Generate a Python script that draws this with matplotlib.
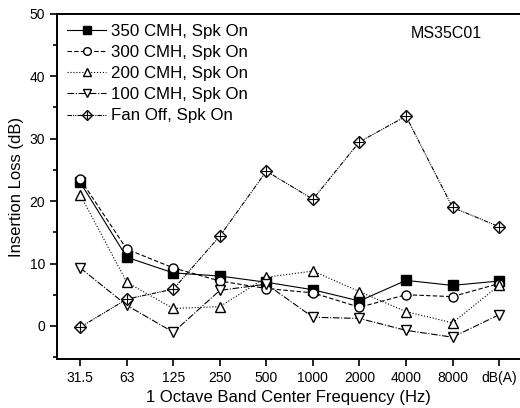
import matplotlib
matplotlib.use("Agg")
from matplotlib import pyplot as plt
from matplotlib.legend_handler import HandlerTuple
from matplotlib.ticker import MultipleLocator

plt.rcParams['font.family'] = ['Liberation Sans', 'DejaVu Sans']

bands = ["31.5", "63", "125", "250", "500", "1000", "2000", "4000", "8000", "dB(A)"]
cmh350 = [23.0, 11.0, 8.5, 8.0, 7.0, 5.8, 4.0, 7.3, 6.5, 7.2]
cmh300 = [23.5, 12.3, 9.3, 7.2, 6.0, 5.3, 3.0, 5.0, 4.7, 6.8]
cmh200 = [21.0, 7.0, 2.8, 3.1, 7.8, 8.8, 5.5, 2.3, 0.5, 6.5]
cmh100 = [9.3, 3.3, -1.0, 5.7, 6.7, 1.4, 1.2, -0.7, -1.8, 1.8]
fanoff = [-0.2, 4.3, 5.9, 14.4, 24.8, 20.3, 29.5, 33.6, 19.0, 15.9]

x = list(range(len(bands)))

fig = plt.figure(figsize=(5.2, 4.08), dpi=100)
ax = fig.add_axes([0.1096, 0.12, 0.8904, 0.846])

lw = 0.8
ms = 6.5
h1, = ax.plot(x, cmh350, '-', color='k', lw=lw, marker='s', ms=ms, mfc='k', mec='k')
h2, = ax.plot(x, cmh300, '--', color='k', lw=lw, marker='o', ms=ms, mfc='white', mec='k', dashes=(4, 2))
h3, = ax.plot(x, cmh200, ':', color='k', lw=lw, marker='^', ms=ms, mfc='white', mec='k')
h4, = ax.plot(x, cmh100, color='k', lw=lw, marker='v', ms=ms, mfc='white', mec='k', dashes=(6, 1.5, 1, 1.5))
h5, = ax.plot(x, fanoff, color='k', lw=lw, marker='D', ms=6, mfc='white', mec='k', dashes=(4, 1, 1, 1, 1, 1))
h5b, = ax.plot(x, fanoff, ls='none', marker='+', ms=7.5, mec='k', mew=0.8)

ax.set_xlim(-0.5, 9.45)
ax.set_ylim(-5.3, 50)
ax.set_xticks(x)
ax.set_xticklabels(bands)
ax.yaxis.set_major_locator(MultipleLocator(10))
ax.yaxis.set_minor_locator(MultipleLocator(5))
ax.tick_params(axis='both', labelsize=10, width=1.2, length=5)
ax.tick_params(axis='y', which='minor', width=1.2, length=3)
ax.spines['right'].set_visible(False)
for s in ['left', 'bottom', 'top']:
    ax.spines[s].set_linewidth(1.4)

ax.set_xlabel("1 Octave Band Center Frequency (Hz)", fontsize=12)
ax.set_ylabel("Insertion Loss (dB)", fontsize=12)

ax.text(0.84, 0.942, "MS35C01", transform=ax.transAxes, ha='center', va='center', fontsize=11.5)

ax.legend([h1, h2, h3, h4, (h5, h5b)],
          ["350 CMH, Spk On", "300 CMH, Spk On", "200 CMH, Spk On", "100 CMH, Spk On", "Fan Off, Spk On"],
          handler_map={tuple: HandlerTuple(ndivide=1, pad=0)},
          loc='upper left', frameon=False, fontsize=12.2, handlelength=2.3,
          labelspacing=0.36, handletextpad=0.3, borderaxespad=0.2, markerscale=0.85)

fig.savefig("out.png", dpi=100)
